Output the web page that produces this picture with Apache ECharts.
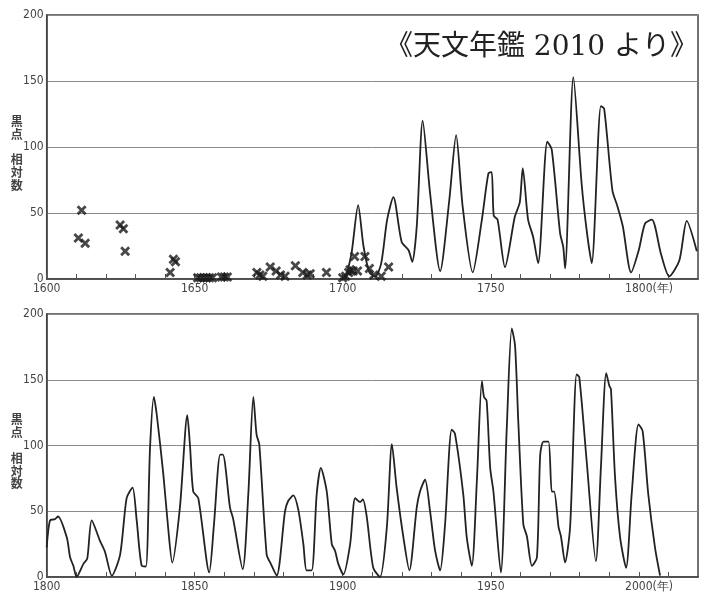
<!DOCTYPE html>
<html>
<head>
<meta charset="utf-8">
<script src="https://cdn.jsdelivr.net/npm/echarts@6/dist/echarts.min.js"></script>
<style>
html,body{margin:0;padding:0;background:#fff;}
#chart{width:707px;height:593px;}
</style>
</head>
<body>
<div id="chart"></div>
<script>
// ---- data ----
var earlyYears  = [1610.7,1611.8,1613,1624.8,1625.9,1626.5,1641.7,1642.8,1643.5,1651,1652,1653,1654,1655,1656,1659,1660,1661,1671,1672,1673,1675.5,1677.5,1679,1680.5,1684,1686.5,1688,1689,1694.5,1700,1701,1702,1702.5,1703.5,1704,1705,1707.5,1709,1710.5,1713,1715.5];
var earlyValues = [31,52,27,41,38,21,5,15,13,1,1,1,1,1,1,1.5,1.5,1.5,5,3,2,9,6,3,2,10,5,3,4,5,1,2,5,7,6,17,6,17,8,3,2,9];

var topYears  = [1701,1703,1705.2,1707,1709,1711,1713,1715,1717.1,1719.9,1722.2,1723.5,1725,1727,1729.5,1732.9,1736,1738.3,1740.5,1743.9,1747,1749.2,1750.3,1751,1752.3,1754.8,1758.1,1759.8,1760.8,1762.6,1764.3,1766,1769.1,1770.6,1773.4,1774.5,1775.1,1777.9,1780.7,1782.5,1784.1,1787.2,1788.3,1791.1,1792.8,1794.6,1797.4,1800,1802.1,1804.4,1807.5,1810.3,1813.7,1816.2,1819.6];
var topValues = [0,20,56,25,5,2,12,45,62,28,22,13,40,120,65,6,60,109,55,5,45,80,81,48,45,9,47,58,84,45,32,12,104,98,35,24,8,153,72,35,12,131,129,67,55,40,5,22,42,45,19,2,14,44,21];

var bottomYears  = [1800,1801.1,1802.8,1803.8,1806.8,1807.9,1809,1810.1,1812.4,1813.7,1815.2,1818,1819.7,1822,1824.8,1827,1829,1830.4,1832.1,1833.5,1834.9,1836.2,1837.2,1839.4,1841,1842.4,1845,1847.5,1848.4,1849.5,1851.2,1854.9,1856.5,1858.6,1859.5,1861.9,1863,1866.2,1868.1,1869.8,1870.9,1871.8,1874.3,1875.7,1877.7,1880.5,1881.6,1883.3,1885,1886.7,1887.8,1889.5,1891.2,1892.6,1894.6,1896.3,1897.4,1898.5,1900.2,1902.5,1904.2,1905.9,1906.8,1908.1,1910.3,1912.6,1914.9,1916.6,1918.2,1920.5,1922.5,1925,1926.1,1927.8,1929.5,1931.2,1932.9,1934.5,1936.8,1937.9,1940.7,1941.9,1943.6,1945.3,1947,1947.7,1948.6,1949.8,1950.9,1953.4,1955.4,1957.1,1958.2,1959.3,1961,1962.2,1963.9,1965.6,1966.7,1967.8,1969.5,1970.6,1971.4,1972.9,1973.7,1975.1,1976.8,1979,1979.9,1982.4,1985.5,1987.2,1989,1990.1,1990.6,1992,1993.7,1995.7,1997.6,1999.9,2001.3,2003.2,2005.5,2007.2];
var bottomValues = [22.5,43,44,46,30,15,8.5,0,10,14,43,27.5,19,1,17,60,68,43,8.5,8,98,137,123,78,38,11,53,123,100,65,60,3.5,40,93,93,53,44,6,63,137,108,101,17,10,1,50,58,62,51,25,5,5,63,83,65,25,20,10,2,25,60,57,59,46,7,0,38,101,68,30,5,53,65,74,50,20,5,38,112,109,63,30,8.5,73,149,137,134,83,65,3.5,113,189,176,118,40,31,8.5,15,93,103,103,65,65,38,31,11,38,154,152,88,12,83,155,145,143,75,30,7,63,116,111,63,22,1];

var yTicks = [0, 50, 100, 150, 200];
var sourceText = '《天文年鑑 2010 より》';
var yName = '\n黒\n点\n\n相\n対\n数';
var yearUnit = '(年)';

function pairs(xs, ys){ return xs.map(function(x,i){ return [x, ys[i]]; }); }

var labelFont = '"DejaVu Sans Condensed","Liberation Sans Narrow","Liberation Sans",sans-serif';

function xAxisFor(grid, min, max, unitAt){
  return {
    type:'value', gridIndex:grid, min:min, max:max, interval:10,
    axisLine:{show:true, onZero:false, lineStyle:{color:'#444', width:1.5}},
    axisTick:{show:true, inside:true, length:5, lineStyle:{color:'#555', width:1}},
    splitLine:{show:false},
    axisLabel:{
      margin:4, color:'#444', fontSize:12, fontFamily:labelFont,
      showMaxLabel:false,
      formatter:function(v){
        if (v % 50 !== 0) return '';
        if (v === unitAt) return '{h|' + yearUnit + '}' + v + yearUnit;
        return String(v);
      },
      rich:{h:{color:'transparent', fontSize:12, fontFamily:labelFont}}
    }
  };
}
function yAxisFor(grid){
  return {
    type:'value', gridIndex:grid, min:yTicks[0], max:yTicks[yTicks.length-1], interval:50,
    name:yName, nameLocation:'middle', nameRotate:0, nameGap:30, nameMoveOverlap:false,
    nameTextStyle:{color:'#444', fontSize:12, lineHeight:12.8, fontWeight:'bold', align:'center', fontFamily:'"Noto Sans CJK JP",sans-serif'},
    axisLine:{show:true, lineStyle:{color:'#444', width:1.5}},
    axisTick:{show:false},
    splitLine:{show:true, lineStyle:{color:'#8a8a8a', width:1}},
    axisLabel:{margin:3, color:'#444', fontSize:12, fontFamily:labelFont}
  };
}

var chart = echarts.init(document.getElementById('chart'), null, {renderer:'canvas'});
chart.setOption({
  backgroundColor:'#fff',
  animation:false,
  title:{
    text:sourceText, right:4, top:29,
    textStyle:{fontSize:28, fontWeight:'normal', color:'#222', fontFamily:'"DejaVu Serif","Liberation Serif","Noto Sans CJK JP",serif'}
  },
  grid:[
    {left:46.7, right:9, top:15, height:264, show:true, borderColor:'#444', borderWidth:1.5},
    {left:46.7, right:9, top:314, height:264, show:true, borderColor:'#444', borderWidth:1.5}
  ],
  xAxis:[ xAxisFor(0, 1600, 1820, 1800), xAxisFor(1, 1800, 2020, 2000) ],
  yAxis:[ yAxisFor(0), yAxisFor(1) ],
  series:[
    {
      type:'scatter', xAxisIndex:0, yAxisIndex:0,
      data:pairs(earlyYears, earlyValues),
      symbol:'path://M0,2L2,0L5,3L8,0L10,2L7,5L10,8L8,10L5,7L2,10L0,8L3,5Z',
      symbolSize:10,
      itemStyle:{color:'#1a1a1a'}
    },
    {
      type:'line', xAxisIndex:0, yAxisIndex:0,
      data:pairs(topYears, topValues),
      showSymbol:false, smooth:0.25,
      lineStyle:{color:'#222', width:1.8}
    },
    {
      type:'line', xAxisIndex:1, yAxisIndex:1,
      data:pairs(bottomYears, bottomValues),
      showSymbol:false, smooth:0.25,
      lineStyle:{color:'#222', width:1.8}
    }
  ]
});
</script>
</body>
</html>
